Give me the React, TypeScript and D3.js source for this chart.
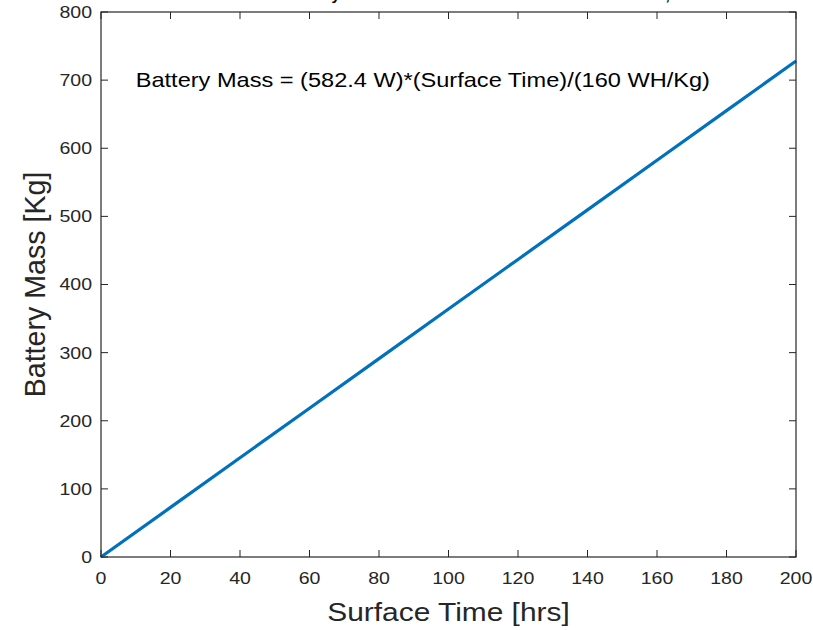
import React from "react";
import * as d3 from "d3";

const surfaceTime = [0, 20, 40, 60, 80, 100, 120, 140, 160, 180, 200];
const batteryMass = [0, 72.8, 145.6, 218.4, 291.2, 364, 436.8, 509.6, 582.4, 655.2, 728];
const xTicks = [0, 20, 40, 60, 80, 100, 120, 140, 160, 180, 200];
const yTicks = [0, 100, 200, 300, 400, 500, 600, 700, 800];
const titleText = "Battery Mass Needed as a Function of Surface Time, 582.4 W";
const equationText = "Battery Mass = (582.4 W)*(Surface Time)/(160 WH/Kg)";
const xLabel = "Surface Time [hrs]";
const yLabel = "Battery Mass [Kg]";

const W = 813;
const H = 630;
const L = 101, R = 796, T = 12, B = 557;
const axisColor = "#262626";
const font = "'Liberation Sans', Arial, Helvetica, sans-serif";
const SX = 1.15;

export default function App() {
  const x = d3.scaleLinear().domain([0, 200]).range([L, R]);
  const y = d3.scaleLinear().domain([0, 800]).range([B, T]);
  const pts = surfaceTime.map((t, i) => [t, batteryMass[i]] as [number, number]);
  const line = d3.line<[number, number]>().x(d => x(d[0])).y(d => y(d[1]));
  const tl = 7;
  return (
    <svg width={W} height={H} style={{ position: "absolute", left: 0, top: 0, background: "#fff" }} fontFamily={font}>
      <rect x={0} y={0} width={W} height={H} fill="#fff" />
      <text transform={`translate(287, 0)`} fontSize={15.4} fontWeight="bold" fill="#000">{titleText}</text>
      <rect x={L} y={T} width={R - L} height={B - T} fill="#fff" />
      {xTicks.map(t => (
        <g key={"x" + t}>
          <line x1={x(t)} x2={x(t)} y1={B} y2={B - tl} stroke={axisColor} strokeWidth={1} />
          <line x1={x(t)} x2={x(t)} y1={T} y2={T + tl} stroke={axisColor} strokeWidth={1} />
          <text transform={`translate(${x(t)}, 584) scale(${SX}, 1)`} fontSize={17} fill={axisColor} textAnchor="middle">{t}</text>
        </g>
      ))}
      {yTicks.map(t => (
        <g key={"y" + t}>
          <line x1={L} x2={L + tl} y1={y(t)} y2={y(t)} stroke={axisColor} strokeWidth={1} />
          <line x1={R} x2={R - tl} y1={y(t)} y2={y(t)} stroke={axisColor} strokeWidth={1} />
          <text transform={`translate(92, ${y(t)}) scale(${SX}, 1)`} dy="0.35em" fontSize={17} fill={axisColor} textAnchor="end">{t}</text>
        </g>
      ))}
      <path d={line(pts) || ""} fill="none" stroke="#0072BD" strokeWidth={3.2} />
      <rect x={L} y={T} width={R - L} height={B - T} fill="none" stroke={axisColor} strokeWidth={1.2} />
      <text transform={`translate(${x(10)}, ${y(700)}) scale(${SX}, 1)`} dy="0.35em" fontSize={20.5} fill="#000">{equationText}</text>
      <text transform={`translate(${(L + R) / 2}, 621) scale(${SX}, 1)`} fontSize={26} fill={axisColor} textAnchor="middle">{xLabel}</text>
      <text transform={`translate(45, ${(T + B) / 2}) rotate(-90) scale(1.1, ${SX})`} fontSize={26} fill={axisColor} textAnchor="middle">{yLabel}</text>
    </svg>
  );
}
